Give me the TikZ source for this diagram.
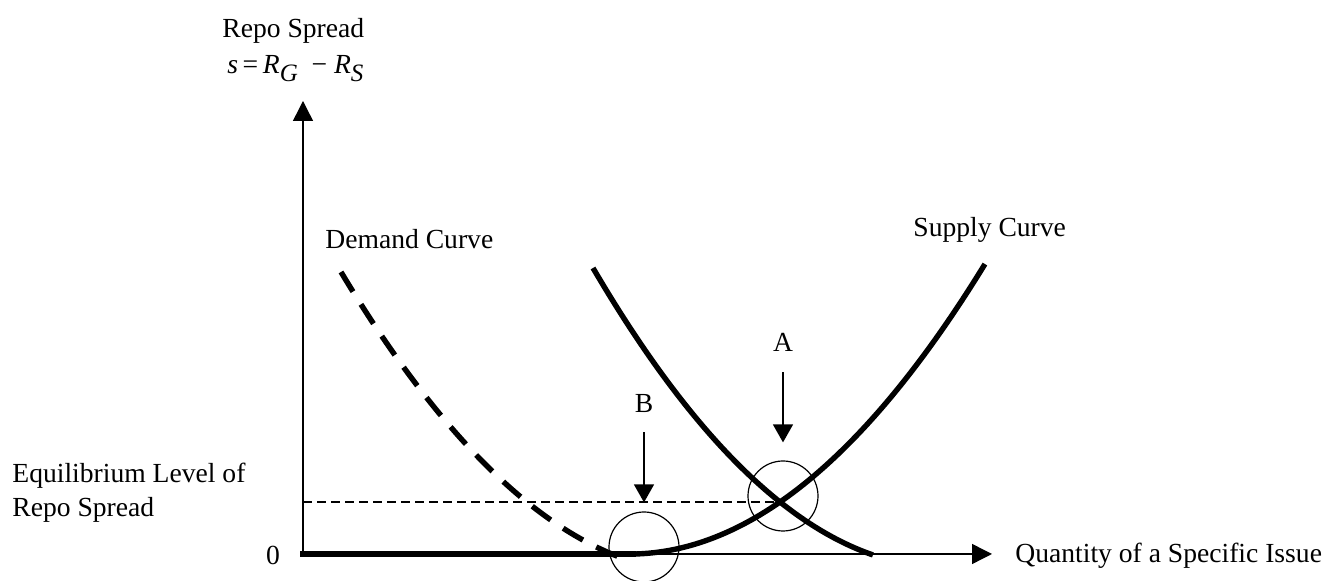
\documentclass[tikz,border=0pt]{standalone}
\usepackage{fontspec}
\setmainfont{Liberation Serif}
\usetikzlibrary{arrows.meta, positioning, calc}

\newcommand{\subtxt}[1]{\raisebox{-4pt}{\fontsize{12.5}{13}\selectfont\textit{#1}}}

\tikzset{
  curve/.style={line width=2.7pt},
  axis/.style={line width=0.7pt, -{Triangle[length=10pt,width=10pt]}},
  pointer/.style={line width=0.7pt, -{Triangle[length=9pt,width=10pt]}},
  marker/.style={circle, draw, line width=0.6pt, minimum size=35pt, inner sep=0pt},
  lbl/.style={font=\fontsize{13.8}{16}\selectfont, inner sep=0pt},
}

\begin{document}
\begin{tikzpicture}[x=0.5pt, y=-0.5pt]
		\useasboundingbox (0,0) rectangle (1330,581);
		
		% Axes
		\coordinate (O) at (303,554);
		\coordinate (ytop) at (303,101);
		\coordinate (xend) at (992,554);
		\draw[axis] (O) -- (ytop);
		\draw[axis] (O) -- (xend);
		
		% Supply curve, flat at zero first
		\coordinate (zstart) at (300,554);
		\coordinate (kink) at (636,554);
		\draw[curve] (zstart) -- (kink);
		\draw[curve, domain=0:3.5, samples=80, smooth]
		plot ({635+100*\x}, {554-2.61*\x-22.93*\x*\x});
		
		% Demand curves
		\draw[curve, domain=0:2.8, samples=80, smooth]
		plot ({593+100*\x}, {268+170.64*\x-24.34*\x*\x});
		\draw[curve, dash pattern=on 11.5pt off 7.5pt, domain=0:2.78, samples=80, smooth]
		plot ({341+100*\x}, {272+166.6*\x-23.07*\x*\x});
		
		% Equilibrium level
		\coordinate (eqA) at (781,502);
		\draw[line width=0.6pt, dash pattern=on 4.5pt off 2.5pt] (O |- eqA) -- (eqA);
		
		% Circles A and B
		\node[marker] (circA) at (783,496) {};
		\node[marker] (circB) at (644,547) {};
		\node[lbl, anchor=base] (labA) at (783,352) {A};
		\node[lbl, anchor=base] (labB) at (644,413) {B};
		\draw[pointer] ([yshift=-10pt]labA.south) -- ([yshift=9pt]circA.north);
		\draw[pointer] ([yshift=-9.5pt]labB.south) -- ([yshift=4.5pt]circB.north);
		
		% Labels
		\node[lbl, anchor=base west] (ylab) at (222,38) {Repo Spread};
		\node[lbl, anchor=base west] (yform) at (227,74)
		{\textit{s}\,=\,\textit{R}\subtxt{G}\ \ −\ \textit{R}\subtxt{S}};
		\node[lbl, anchor=base west] (dlab) at (325,249) {Demand Curve};
		\node[lbl, anchor=base west] (slab) at (913,237) {Supply Curve};
		\node[lbl, anchor=base west] (eqlab) at (12,483) {Equilibrium Level of};
		\node[lbl, anchor=base west] (eqlabb) at (12,517) {Repo Spread};
		\node[lbl, anchor=base] (zero) at (273,565) {0};
		\node[lbl, anchor=base west] (xlab) at (1015,563) {Quantity of a Specific Issue};
	\end{tikzpicture}
\end{document}
